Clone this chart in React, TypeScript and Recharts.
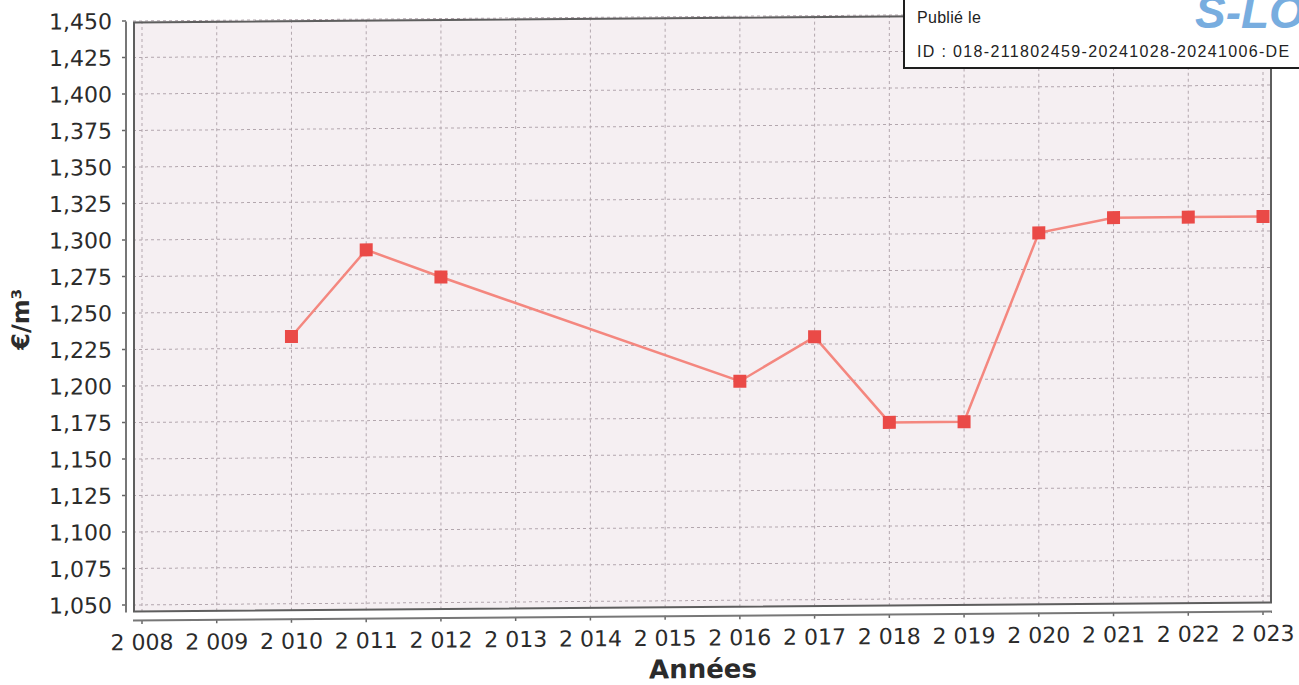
import React from 'react';
import { LineChart, Line, XAxis, YAxis, CartesianGrid } from 'recharts';

const years = [2010, 2011, 2012, 2016, 2017, 2018, 2019, 2020, 2021, 2022, 2023];
const prices = [1.233, 1.292, 1.273, 1.2, 1.23, 1.171, 1.171, 1.3, 1.31, 1.31, 1.31];
const yearTicks = [2008, 2009, 2010, 2011, 2012, 2013, 2014, 2015, 2016, 2017, 2018, 2019, 2020, 2021, 2022, 2023];
const priceTicks = [1.05, 1.075, 1.1, 1.125, 1.15, 1.175, 1.2, 1.225, 1.25, 1.275, 1.3, 1.325, 1.35, 1.375, 1.4, 1.425, 1.45];

const data = years.map((y, i) => ({ annee: y, prix: prices[i] }));

const font = 'DejaVu Sans, Verdana, sans-serif';

const fmtYear = (v: number) => `${Math.floor(v / 1000)} ${String(v % 1000).padStart(3, '0')}`;
const fmtPrice = (v: number) => v.toFixed(3).replace('.', ',');

const YTick = (props: any) => {
  const { y, payload } = props;
  return (
    <g>
      <line x1={122} x2={126} y1={y} y2={y} stroke="#666" strokeWidth={1.5} />
      <text x={112} y={y} dy="0.36em" textAnchor="end" fontSize={22} fontFamily={font} fill="#2b2b2b">
        {fmtPrice(payload.value)}
      </text>
    </g>
  );
};

const XTick = (props: any) => {
  const { x, payload } = props;
  return (
    <g>
      <line x1={x} x2={x} y1={615.5} y2={619.5} stroke="#666" strokeWidth={1.5} />
      <text x={x} y={645.5} textAnchor="middle" fontSize={22} fontFamily={font} fill="#2b2b2b">
        {fmtYear(payload.value)}
      </text>
    </g>
  );
};

const Marker = (props: any) => {
  const { cx, cy } = props;
  if (cx == null || cy == null) return null;
  return <rect x={cx - 6.5} y={cy - 6.5} width={13} height={13} fill="#ea4a47" />;
};

export default function App() {
  return (
    <div style={{ position: 'absolute', left: 0, top: 0, width: 1299, height: 685, background: '#fff', overflow: 'hidden' }}>
      <div
        style={{
          position: 'absolute',
          left: 0,
          top: 0,
          width: 1299,
          height: 685,
          transform: 'skewY(-0.45deg)',
          transformOrigin: '703px 315px',
        }}
      >
        <LineChart width={1299} height={685} data={data} margin={{ top: 16.5, right: 27, bottom: 17.2, left: 8 }}>
          <CartesianGrid
            fill="#f5eff2"
            stroke="#b3a7ae"
            strokeDasharray="3 3"
            horizontalValues={priceTicks}
            verticalValues={yearTicks}
          />
          <XAxis
            type="number"
            dataKey="annee"
            domain={[2008, 2023]}
            ticks={yearTicks}
            padding={{ left: 9, right: 9 }}
            height={60}
            axisLine={false}
            tickLine={false}
            tick={<XTick />}
            interval={0}
            label={{
              content: () => (
                <text x={703} y={678} textAnchor="middle" fontSize={26} fontWeight="bold" fontFamily={font} fill="#2b2b2b">
                  Années
                </text>
              ),
            }}
          />
          <YAxis
            type="number"
            domain={[1.05, 1.45]}
            ticks={priceTicks}
            padding={{ top: 0, bottom: 7.3 }}
            width={125}
            axisLine={false}
            tickLine={false}
            tick={<YTick />}
            interval={0}
            label={{
              content: () => (
                <text
                  x={0}
                  y={0}
                  transform="translate(29 314) rotate(-90)"
                  textAnchor="middle"
                  fontSize={24}
                  fontWeight="bold"
                  fontFamily={font}
                  fill="#2b2b2b"
                >
                  €/m³
                </text>
              ),
            }}
          />
          <Line
            type="linear"
            dataKey="prix"
            stroke="#f4877f"
            strokeWidth={2.5}
            dot={<Marker />}
            activeDot={false}
            isAnimationActive={false}
          />
        </LineChart>
        {/* plot frame and offset axis lines */}
        <div
          style={{
            position: 'absolute',
            left: 133,
            top: 16.5,
            width: 1139,
            height: 591.3,
            boxSizing: 'border-box',
            border: '2px solid #5e5e5e',
            pointerEvents: 'none',
          }}
        />
        <div style={{ position: 'absolute', left: 125, top: 16.5, width: 1.5, height: 591.3, background: '#777' }} />
        <div style={{ position: 'absolute', left: 133, top: 615, width: 1139, height: 1.5, background: '#777' }} />
      </div>

      {/* stamp */}
      <div
        style={{
          position: 'absolute',
          left: 903,
          top: -2,
          width: 420,
          height: 71,
          boxSizing: 'border-box',
          border: '2px solid #1e1e1e',
          background: '#fff',
          fontFamily: 'Liberation Sans, Arial, sans-serif',
          fontSize: 16,
          color: '#222',
          overflow: 'hidden',
        }}
      >
        <div style={{ position: 'absolute', left: 12, top: 9, letterSpacing: 0.3 }}>Publié le</div>
        <div style={{ position: 'absolute', left: 12, top: 43, letterSpacing: 1.35, whiteSpace: 'nowrap' }}>
          ID : 018-211802459-20241028-20241006-DE
        </div>
        <div
          style={{
            position: 'absolute',
            left: 290,
            top: -15,
            fontSize: 46,
            fontWeight: 'bold',
            fontStyle: 'italic',
            color: '#78addf',
            whiteSpace: 'nowrap',
          }}
        >
          S-LO
        </div>
      </div>
    </div>
  );
}
